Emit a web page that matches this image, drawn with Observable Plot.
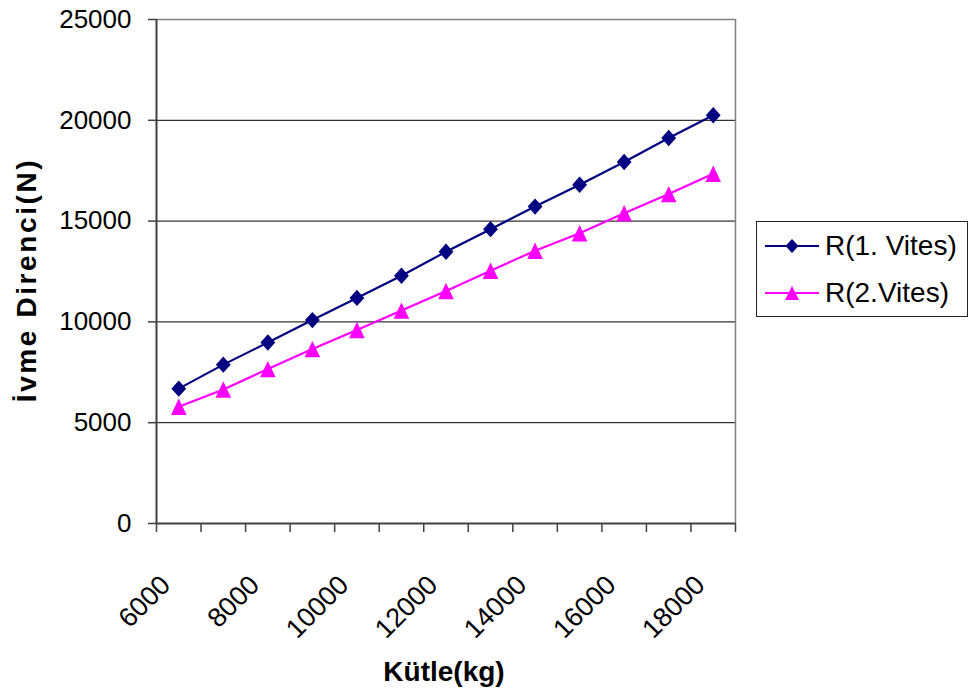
<!DOCTYPE html>
<html>
<head>
<meta charset="utf-8">
<script src="https://cdn.jsdelivr.net/npm/d3@7"></script>
<script src="https://cdn.jsdelivr.net/npm/@observablehq/plot@0.6"></script>
<style>
  html, body { margin: 0; padding: 0; background: #fff; }
  #wrap { position: relative; width: 971px; height: 696px; font-family: "Liberation Sans", Arial, sans-serif; }
  #wrap svg.plot { position: absolute; left: 0; top: 0; }
  .title { position: absolute; font-weight: bold; font-size: 28px; color: #000; white-space: nowrap; }
  #ytitle { left: 27px; top: 280px; transform: translate(-50%, -50%) rotate(-90deg); letter-spacing: 2.6px; }
  #xtitle { left: 444px; top: 672px; transform: translate(-50%, -50%); }
  #legend { position: absolute; left: 756px; top: 221px; width: 210px; height: 94px; border: 1px solid #222; background: #fff; }
  .lrow { position: absolute; left: 0; height: 40px; display: flex; align-items: center; font-size: 28px; }
  .lrow svg { margin-left: 8px; margin-right: 6px; }
</style>
</head>
<body>
<div id="wrap">
  <div id="ytitle" class="title">İvme Direnci(N)</div>
  <div id="xtitle" class="title">Kütle(kg)</div>
  <div id="legend"></div>
</div>
<script>
// Data
const masses = [6000, 7000, 8000, 9000, 10000, 11000, 12000, 13000, 14000, 15000, 16000, 17000, 18000];
const r1Values = [6690, 7880, 8980, 10090, 11190, 12290, 13480, 14600, 15720, 16800, 17930, 19120, 20250];
const r2Values = [5790, 6650, 7660, 8650, 9600, 10560, 11530, 12540, 13530, 14400, 15390, 16340, 17350];
const seriesNames = ["R(1. Vites)", "R(2.Vites)"];
const xLabelTicks = [6000, 8000, 10000, 12000, 14000, 16000, 18000];
const xTickMarks = [5500, 6500, 7500, 8500, 9500, 10500, 11500, 12500, 13500, 14500, 15500, 16500, 17500, 18500];
const yTicks = [0, 5000, 10000, 15000, 20000, 25000];
const yGrid = [5000, 10000, 15000, 20000];

const colors = ["#000080", "#FF00FF"];

const rows1 = masses.map((m, i) => ({mass: m, value: r1Values[i]}));
const rows2 = masses.map((m, i) => ({mass: m, value: r2Values[i]}));

// Excel-like marker shapes
const diamondSym = {
  draw(ctx, size) {
    const r = Math.sqrt(size / Math.PI);
    ctx.moveTo(0, -1.05 * r);
    ctx.lineTo(0.95 * r, 0);
    ctx.lineTo(0, 1.05 * r);
    ctx.lineTo(-0.95 * r, 0);
    ctx.closePath();
  }
};
const triangleSym = {
  draw(ctx, size) {
    const r = Math.sqrt(size / Math.PI);
    ctx.moveTo(0, -1.05 * r);
    ctx.lineTo(1.0 * r, 1.05 * r);
    ctx.lineTo(-1.0 * r, 1.05 * r);
    ctx.closePath();
  }
};

const axisColor = "#404040";

const chart = Plot.plot({
  width: 971,
  height: 696,
  marginLeft: 156,
  marginRight: 236,
  marginTop: 19,
  marginBottom: 173,
  style: {fontFamily: "'Liberation Sans', Arial, sans-serif", fontSize: "26px", color: "#000", background: "transparent"},
  x: {type: "linear", domain: [5500, 18500]},
  y: {type: "linear", domain: [0, 25000]},
  marks: [
    Plot.ruleY(yGrid, {stroke: "#000", strokeWidth: 1}),
    Plot.ruleY([25000], {stroke: "#808080", strokeWidth: 1.5}),
    Plot.ruleX([18500], {stroke: "#808080", strokeWidth: 1.5}),
    Plot.axisY(yTicks, {tickSize: 8, tickPadding: 17, stroke: axisColor, strokeWidth: 1.5, label: null, tickFormat: d => String(d)}),
    Plot.axisX(xTickMarks, {tickSize: 9, stroke: axisColor, strokeWidth: 1.5, tickFormat: () => "", label: null}),
    Plot.axisX(xLabelTicks, {tickSize: 0, tickRotate: -45, tickPadding: 57, dx: -13, fontSize: 27, label: null, tickFormat: d => String(d)}),
    Plot.ruleX([5500], {stroke: axisColor, strokeWidth: 2}),
    Plot.ruleY([0], {stroke: axisColor, strokeWidth: 2}),
    Plot.line(rows1, {x: "mass", y: "value", stroke: colors[0], strokeWidth: 2.2}),
    Plot.line(rows2, {x: "mass", y: "value", stroke: colors[1], strokeWidth: 2.2}),
    Plot.dot(rows1, {x: "mass", y: "value", symbol: diamondSym, r: 7.8, fill: colors[0], stroke: "none"}),
    Plot.dot(rows2, {x: "mass", y: "value", symbol: triangleSym, r: 7.8, fill: colors[1], stroke: "none"})
  ]
});
chart.classList.add("plot");
document.getElementById("wrap").prepend(chart);

// Legend
const legend = document.getElementById("legend");
const legendShapes = [
  '<path d="M27 -7 L33.5 0 L27 7 L20.5 0 Z" />',
  '<path d="M27 -7 L34 7 L20 7 Z" />'
];
seriesNames.forEach((name, i) => {
  const row = document.createElement("div");
  row.className = "lrow";
  row.style.top = (i === 0 ? 4 : 51) + "px";
  row.innerHTML =
    `<svg width="54" height="20" viewBox="0 -10 54 20"><line x1="0" x2="54" y1="0" y2="0" stroke="${colors[i]}" stroke-width="2"/>` +
    `<g fill="${colors[i]}">${legendShapes[i]}</g></svg><span>${name}</span>`;
  legend.appendChild(row);
});
</script>
</body>
</html>
